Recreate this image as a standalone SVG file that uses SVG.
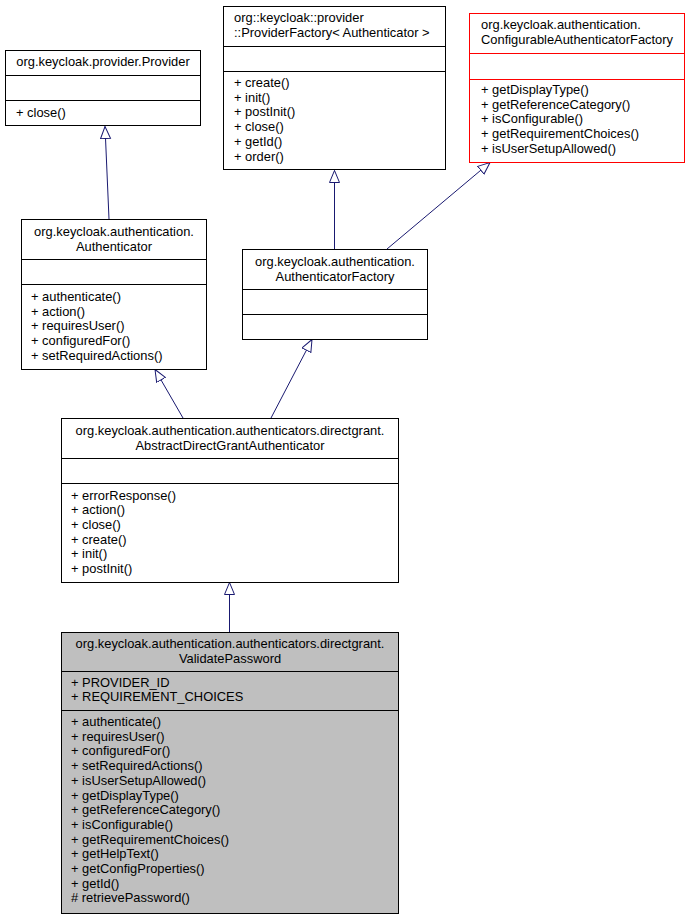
<svg xmlns="http://www.w3.org/2000/svg" width="690" height="919" viewBox="0 0 690 919">
<style>
text{font-family:"Liberation Sans",Arial,sans-serif;font-size:12.9px;fill:#000}
.c{text-anchor:middle}
.box{fill:#fff;stroke:#000;stroke-width:1}
.red{fill:#fff;stroke:#ff0000;stroke-width:1}
.gray{fill:#bfbfbf;stroke:#000;stroke-width:1}
.sep{stroke:#000;stroke-width:1}
.sepr{stroke:#ff0000;stroke-width:1}
.edge{stroke:#191970;stroke-width:1;fill:none;marker-end:url(#inh)}
</style>
<defs>
<marker id="inh" markerWidth="14" markerHeight="12" refX="12.5" refY="5.5" orient="auto" markerUnits="userSpaceOnUse">
<path d="M0.5,0.5 L12.5,5.5 L0.5,10.5 z" fill="#fff" stroke="#191970" stroke-width="1"/>
</marker>
</defs>
<rect width="690" height="919" fill="#fff"/>
<g id="connectors">
<line class="edge" x1="109" y1="219" x2="105" y2="126.5"/>
<line class="edge" x1="334.5" y1="249" x2="334.5" y2="170.5"/>
<line class="edge" x1="387" y1="249" x2="490" y2="162.5"/>
<line class="edge" x1="183" y1="418" x2="155" y2="369.5"/>
<line class="edge" x1="271" y1="418" x2="312" y2="339.5"/>
<line class="edge" x1="229.5" y1="632" x2="229.5" y2="582.5"/>
</g>
<g id="Provider">
<rect class="box" x="5.5" y="50.5" width="195" height="75"/>
<line class="sep" x1="5.5" y1="75.5" x2="200.5" y2="75.5"/>
<line class="sep" x1="5.5" y1="100.5" x2="200.5" y2="100.5"/>
<text class="c" x="103" y="66">org.keycloak.provider.Provider</text>
<text x="16" y="117">+ close()</text>
</g>
<g id="ProviderFactory">
<rect class="box" x="223.5" y="6.5" width="222" height="163"/>
<line class="sep" x1="223.5" y1="46.5" x2="445.5" y2="46.5"/>
<line class="sep" x1="223.5" y1="71.5" x2="445.5" y2="71.5"/>
<text x="234" y="22">org::keycloak::provider</text>
<text x="234" y="37">::ProviderFactory&lt; Authenticator &gt;</text>
<text x="234" y="87">+ create()</text>
<text x="234" y="101.7">+ init()</text>
<text x="234" y="116.4">+ postInit()</text>
<text x="234" y="131.1">+ close()</text>
<text x="234" y="145.8">+ getId()</text>
<text x="234" y="160.5">+ order()</text>
</g>
<g id="ConfigurableAuthenticatorFactory">
<rect class="red" x="469.5" y="13.5" width="215" height="149"/>
<line class="sepr" x1="469.5" y1="53.5" x2="684.5" y2="53.5"/>
<line class="sepr" x1="469.5" y1="79.5" x2="684.5" y2="79.5"/>
<text x="481" y="29">org.keycloak.authentication.</text>
<text x="481" y="43.5">ConfigurableAuthenticatorFactory</text>
<text x="481" y="94">+ getDisplayType()</text>
<text x="481" y="108.7">+ getReferenceCategory()</text>
<text x="481" y="123.4">+ isConfigurable()</text>
<text x="481" y="138.1">+ getRequirementChoices()</text>
<text x="481" y="152.8">+ isUserSetupAllowed()</text>
</g>
<g id="Authenticator">
<rect class="box" x="21.5" y="219.5" width="185" height="150"/>
<line class="sep" x1="21.5" y1="259.5" x2="206.5" y2="259.5"/>
<line class="sep" x1="21.5" y1="284.5" x2="206.5" y2="284.5"/>
<text class="c" x="114" y="236">org.keycloak.authentication.</text>
<text class="c" x="114" y="250.5">Authenticator</text>
<text x="31" y="301">+ authenticate()</text>
<text x="31" y="315.7">+ action()</text>
<text x="31" y="330.4">+ requiresUser()</text>
<text x="31" y="345.1">+ configuredFor()</text>
<text x="31" y="359.8">+ setRequiredActions()</text>
</g>
<g id="AuthenticatorFactory">
<rect class="box" x="242.5" y="249.5" width="185" height="90"/>
<line class="sep" x1="242.5" y1="289.5" x2="427.5" y2="289.5"/>
<line class="sep" x1="242.5" y1="314.5" x2="427.5" y2="314.5"/>
<text class="c" x="335" y="266">org.keycloak.authentication.</text>
<text class="c" x="335" y="280.5">AuthenticatorFactory</text>
</g>
<g id="AbstractDirectGrantAuthenticator">
<rect class="box" x="61.5" y="418.5" width="337" height="164"/>
<line class="sep" x1="61.5" y1="458.5" x2="398.5" y2="458.5"/>
<line class="sep" x1="61.5" y1="483.5" x2="398.5" y2="483.5"/>
<text class="c" x="230" y="435">org.keycloak.authentication.authenticators.directgrant.</text>
<text class="c" x="230" y="449.5">AbstractDirectGrantAuthenticator</text>
<text x="71" y="499.5">+ errorResponse()</text>
<text x="71" y="514.2">+ action()</text>
<text x="71" y="528.9">+ close()</text>
<text x="71" y="543.6">+ create()</text>
<text x="71" y="558.3">+ init()</text>
<text x="71" y="573">+ postInit()</text>
</g>
<g id="ValidatePassword">
<rect class="gray" x="61.5" y="632.5" width="337" height="281"/>
<line class="sep" x1="61.5" y1="671.5" x2="398.5" y2="671.5"/>
<line class="sep" x1="61.5" y1="710.5" x2="398.5" y2="710.5"/>
<text class="c" x="230" y="648">org.keycloak.authentication.authenticators.directgrant.</text>
<text class="c" x="230" y="662.5">ValidatePassword</text>
<text x="71" y="686.5">+ PROVIDER_ID</text>
<text x="71" y="701">+ REQUIREMENT_CHOICES</text>
<text x="71" y="726">+ authenticate()</text>
<text x="71" y="740.7">+ requiresUser()</text>
<text x="71" y="755.4">+ configuredFor()</text>
<text x="71" y="770.1">+ setRequiredActions()</text>
<text x="71" y="784.8">+ isUserSetupAllowed()</text>
<text x="71" y="799.5">+ getDisplayType()</text>
<text x="71" y="814.2">+ getReferenceCategory()</text>
<text x="71" y="828.9">+ isConfigurable()</text>
<text x="71" y="843.6">+ getRequirementChoices()</text>
<text x="71" y="858.3">+ getHelpText()</text>
<text x="71" y="873">+ getConfigProperties()</text>
<text x="71" y="887.7">+ getId()</text>
<text x="71" y="902.4"># retrievePassword()</text>
</g>
</svg>
